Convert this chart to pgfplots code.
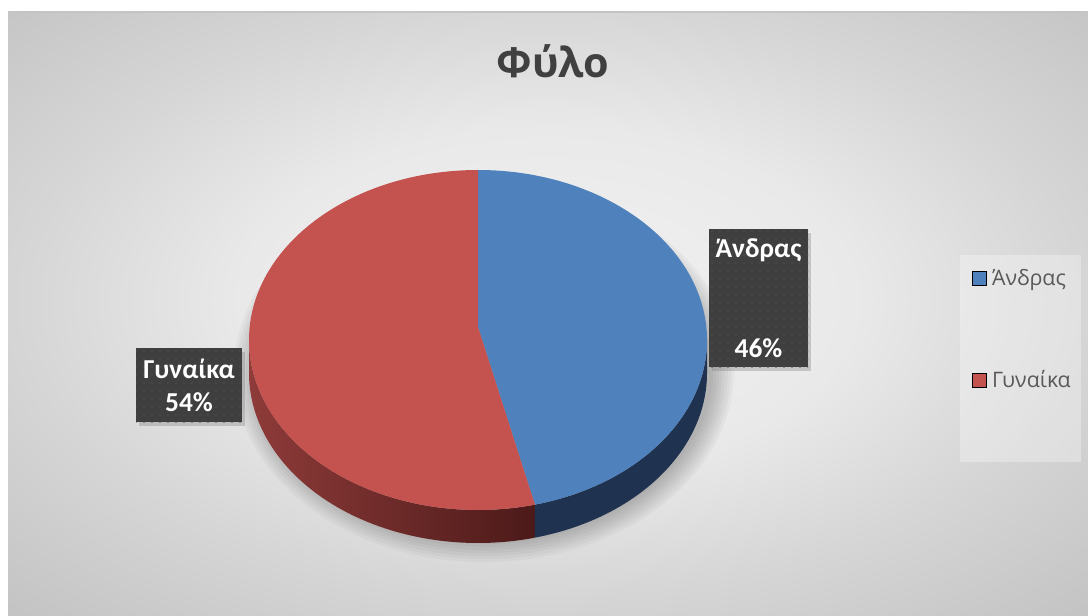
\documentclass[border=0pt]{standalone}
\usepackage{pgfplots}
\pgfplotsset{compat=1.18}
\usepackage{fontspec}
\setmainfont{Open Sans}
\newfontfamily\labfont{Carlito}
\usetikzlibrary{patterns.meta,shadows}
\definecolor{blueTop}{HTML}{4F81BD}
\definecolor{redTop}{HTML}{C4524F}
\definecolor{blueSide}{HTML}{1F3350}
\definecolor{redSideL}{HTML}{8E3B39}
\definecolor{redSideR}{HTML}{4C1A19}
\definecolor{titleGray}{HTML}{404040}
\definecolor{legGray}{HTML}{595959}
\definecolor{boxGray}{HTML}{3F3F3F}
\definecolor{dotGray}{HTML}{4E4E4E}
\definecolor{bgA}{HTML}{F2F2F2}
\definecolor{bgB}{HTML}{E9E9E9}
\definecolor{bgC}{HTML}{D6D6D6}
\definecolor{bgD}{HTML}{C4C4C4}
\definecolor{edgeGray}{HTML}{C4C4C4}
\pgfdeclareradialshading{bgshade}{\pgfpoint{0bp}{0bp}}{color(0bp)=(bgA); color(10bp)=(bgB); color(17bp)=(bgC); color(25bp)=(bgD); color(50bp)=(bgD)}

% data (percent)
\def\valMale{46}
\def\valFemale{54}
\pgfmathsetmacro\angSplit{90-360*(\valMale/(\valMale+\valFemale))}
\pgfmathsetmacro\angSplitB{\angSplit+360}

\begin{document}
\begin{tikzpicture}
\begin{axis}[
  hide axis, scale only axis, width=816pt, height=461.25pt,
  xmin=0, xmax=1088, ymin=0, ymax=615, clip=false,
  legend style={at={(axis description cs:0.8934,0.5642)}, anchor=north west,
    draw=none, fill=none, inner sep=0pt, row sep=60pt,
    font=\fontsize{16}{18}\selectfont, text=legGray, legend cell align=left,
    nodes={inner sep=1pt},
    /tikz/every odd column/.append style={column sep=3pt}},
  legend image code/.code={\fill[#1] (0pt,-5.25pt) rectangle (10.5pt,5.25pt);},
]
% background
\fill[white] (axis cs:0,0) rectangle (axis cs:1088,615);
\begin{scope}
\clip (axis cs:8,0) rectangle (axis cs:1088,603);
\shade[shading=bgshade] (axis cs:-222,-115) rectangle (axis cs:1318,745);
\end{scope}
\draw[edgeGray, line width=1.2pt] (axis cs:8,603) -- (axis cs:1088,603);
% legend box
\fill[white, opacity=0.3] (axis cs:960,153) rectangle (axis cs:1081,360);
% pie shadow
\pgfplotsinvokeforeach{0,...,7}{
  \fill[black, opacity=0.03] (axis cs:484,244) ellipse [x radius={(229+3*#1)*0.75pt}, y radius={(170+3*#1)*0.75pt}];
}
% pie sides
\shade[left color=redSideL, right color=redSideR]
  (axis cs:249,275) arc[start angle=180, end angle=\angSplitB, x radius=171.75pt, y radius=127.5pt]
  -- ++(0pt,-24.75pt) arc[start angle=\angSplitB, end angle=180, x radius=171.75pt, y radius=127.5pt] -- cycle;
\fill[blueSide]
  (axis cs:707,275) arc[start angle=360, end angle=\angSplitB, x radius=171.75pt, y radius=127.5pt]
  -- ++(0pt,-24.75pt) arc[start angle=\angSplitB, end angle=360, x radius=171.75pt, y radius=127.5pt] -- cycle;
% pie top
\fill[blueTop] (axis cs:478,288) -- (axis cs:478,445)
  arc[start angle=90, end angle=\angSplit, x radius=171.75pt, y radius=127.5pt] -- cycle;
\fill[redTop] (axis cs:478,288) -- (axis cs:478,445)
  arc[start angle=90, end angle=\angSplitB, x radius=171.75pt, y radius=127.5pt] -- cycle;
% title
\node[anchor=base, font=\fontsize{31}{36}\selectfont\bfseries, text=titleGray] at (axis cs:553,537) {Φύλο};
% data labels
\path[fill=boxGray, drop shadow={opacity=0.35, shadow xshift=2pt, shadow yshift=-3pt}] (axis cs:709,248) rectangle (axis cs:808,386);
\fill[pattern={Dots[distance=6pt, radius=0.6pt]}, pattern color=dotGray] (axis cs:709,248) rectangle (axis cs:808,386);
\node[anchor=base, font=\fontsize{20.5}{24}\selectfont\labfont\bfseries, text=white] at (axis cs:758.5,358) {Άνδρας};
\node[anchor=base, font=\fontsize{20.5}{24}\selectfont\labfont\bfseries, text=white] at (axis cs:758.5,258) {46\%};
\path[fill=boxGray, drop shadow={opacity=0.35, shadow xshift=2pt, shadow yshift=-3pt}] (axis cs:136,193) rectangle (axis cs:242,267);
\fill[pattern={Dots[distance=6pt, radius=0.6pt]}, pattern color=dotGray] (axis cs:136,193) rectangle (axis cs:242,267);
\node[anchor=base, font=\fontsize{20.5}{24}\selectfont\labfont\bfseries, text=white] at (axis cs:189,237) {Γυναίκα};
\node[anchor=base, font=\fontsize{20.5}{24}\selectfont\labfont\bfseries, text=white] at (axis cs:189,204) {54\%};
% legend
\addlegendimage{fill=blueTop}
\addlegendentry{Άνδρας}
\addlegendimage{fill=redTop}
\addlegendentry{Γυναίκα}
\end{axis}
\pgfresetboundingbox
\path[use as bounding box] (0,0) rectangle (816pt,461.25pt);
\end{tikzpicture}
\end{document}
